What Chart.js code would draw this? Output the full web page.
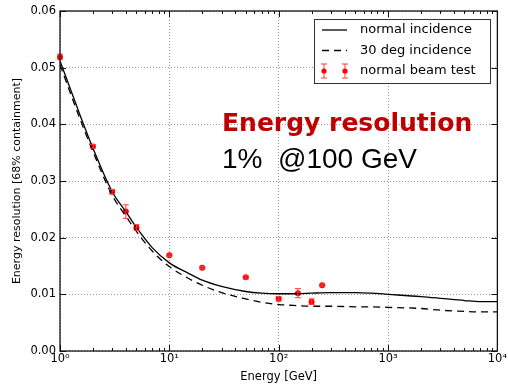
<!DOCTYPE html>
<html>
<head>
<meta charset="utf-8">
<script src="https://cdn.jsdelivr.net/npm/chart.js@4.4.1/dist/chart.umd.min.js"></script>
<style>
  html, body { margin: 0; padding: 0; background: #fff; }
  #chart { display: block; }
</style>
</head>
<body>
<canvas id="chart" width="508" height="388"></canvas>
<script>
// ---- DATA ----
const ENERGY_GEV = [1, 1.5, 2, 3, 4, 5, 7, 10, 15, 20, 30, 50, 70, 100, 150, 200, 300, 500, 700, 1000, 2000, 3000, 5000, 7000, 10000];
const RES_NORMAL = [0.0512, 0.0420, 0.0358, 0.0281, 0.0246, 0.0218, 0.0182, 0.01555, 0.0137, 0.0125, 0.0114, 0.0105, 0.0102, 0.0101, 0.0101, 0.0102, 0.0103, 0.0103, 0.0102, 0.0100, 0.0096, 0.0093, 0.0089, 0.0087, 0.0087];
const RES_30DEG  = [0.0505, 0.0413, 0.0352, 0.0275, 0.0238, 0.0211, 0.0176, 0.0149, 0.0128, 0.0116, 0.0103, 0.0092, 0.0086, 0.0082, 0.0080, 0.0079, 0.0079, 0.0078, 0.0078, 0.0077, 0.0075, 0.0072, 0.0070, 0.0069, 0.0069];

const BEAM_ENERGY = [1, 2, 3, 4, 5, 10, 20, 50, 100, 150, 200, 250];
const BEAM_RES    = [0.0519, 0.0361, 0.0281, 0.0246, 0.0218, 0.0169, 0.0147, 0.0130, 0.0092, 0.0102, 0.0087, 0.0116];
const BEAM_ERR    = [0.0005, 0.0003, 0.0004, 0.0012, 0.0005, 0.0002, 0.0002, 0.0003, 0.0004, 0.0008, 0.0005, 0.0002];

const SERIES_LABELS = ["normal incidence", "30 deg incidence", "normal beam test"];
const X_TICKS = [1, 10, 100, 1000, 10000];
const X_TICK_LABELS = ["10\u2070", "10\u00b9", "10\u00b2", "10\u00b3", "10\u2074"];
const Y_TICKS = [0, 0.01, 0.02, 0.03, 0.04, 0.05, 0.06];
const X_TITLE = "Energy [GeV]";
const Y_TITLE = "Energy resolution [68% containment]";
const NOTE_TITLE = "Energy resolution";
const NOTE_VALUE = "1%  @100 GeV";

// ---- HELPERS ----
const pts = (xs, ys) => xs.map((x, i) => ({ x, y: ys[i] }));
const TICK_FONT = { family: "DejaVu Sans", size: 11.5 };

// inward ticks + black frame, matplotlib-style
const framePlugin = {
  id: "frame",
  afterDraw(chart) {
    const { ctx, chartArea: a, scales: { x, y } } = chart;
    ctx.save();
    ctx.strokeStyle = "#111";
    ctx.lineWidth = 1;
    ctx.beginPath();
    for (let d = 0; d < 4; d++) {
      const base = Math.pow(10, d);
      for (let m = 1; m <= 9; m++) {
        const v = base * m;
        const px = Math.round(x.getPixelForValue(v)) + 0.5;
        const len = m === 1 ? 6 : 3;
        ctx.moveTo(px, a.bottom); ctx.lineTo(px, a.bottom - len);
        ctx.moveTo(px, a.top); ctx.lineTo(px, a.top + len);
      }
    }
    Y_TICKS.forEach(v => {
      const py = Math.round(y.getPixelForValue(v)) + 0.5;
      ctx.moveTo(a.left, py); ctx.lineTo(a.left + 6, py);
      ctx.moveTo(a.right, py); ctx.lineTo(a.right - 6, py);
    });
    ctx.stroke();
    ctx.lineWidth = 1.3;
    ctx.strokeRect(a.left, a.top, a.right - a.left, a.bottom - a.top);
    ctx.restore();
  }
};

// vertical error bars for the beam test points
function drawErrorBar(ctx, px, yLo, yHi) {
  ctx.beginPath();
  ctx.moveTo(px, yLo); ctx.lineTo(px, yHi);
  ctx.moveTo(px - 3, yLo); ctx.lineTo(px + 3, yLo);
  ctx.moveTo(px - 3, yHi); ctx.lineTo(px + 3, yHi);
  ctx.stroke();
}
const errorBarPlugin = {
  id: "errorBars",
  afterDatasetsDraw(chart) {
    const { ctx, scales: { x, y } } = chart;
    ctx.save();
    ctx.strokeStyle = "#ff3b3b";
    ctx.lineWidth = 1;
    BEAM_ENERGY.forEach((e, i) => {
      const px = x.getPixelForValue(e);
      drawErrorBar(ctx, px, y.getPixelForValue(BEAM_RES[i] - BEAM_ERR[i]), y.getPixelForValue(BEAM_RES[i] + BEAM_ERR[i]));
    });
    ctx.restore();
  }
};

// boxed legend in the top right corner + red/black note text
const legendNotePlugin = {
  id: "legendNote",
  afterDraw(chart) {
    const { ctx } = chart;
    const ds = chart.data.datasets;
    ctx.save();
    // box
    const bx = 314.5, by = 19.5, bw = 176, bh = 64;
    ctx.fillStyle = "#fff";
    ctx.fillRect(bx, by, bw, bh);
    ctx.strokeStyle = "#333";
    ctx.lineWidth = 1;
    ctx.strokeRect(bx, by, bw, bh);
    ctx.font = "13px 'DejaVu Sans'";
    ctx.textBaseline = "middle";
    ctx.fillStyle = "#000";
    ds.forEach((d, i) => {
      const ly = 30 + i * 20.5;
      ctx.strokeStyle = d.borderColor;
      ctx.lineWidth = d.borderWidth || 1;
      if (d.showLine !== false) {
        ctx.setLineDash(d.borderDash || []);
        ctx.beginPath();
        ctx.moveTo(322, ly); ctx.lineTo(347, ly);
        ctx.stroke();
        ctx.setLineDash([]);
      } else {
        ctx.strokeStyle = "#ff3b3b";
        ctx.lineWidth = 1;
        [324, 345].forEach(px => {
          drawErrorBar(ctx, px, ly + 7, ly - 7);
          ctx.fillStyle = d.pointBackgroundColor;
          ctx.beginPath(); ctx.arc(px, ly, 2.6, 0, Math.PI * 2); ctx.fill();
        });
        ctx.fillStyle = "#000";
      }
      ctx.fillText(d.label, 360, ly);
    });
    // note
    ctx.textBaseline = "alphabetic";
    ctx.fillStyle = "#c00000";
    ctx.font = "bold 25px 'DejaVu Sans'";
    ctx.fillText(NOTE_TITLE, 222, 131);
    ctx.fillStyle = "#000";
    ctx.font = "28px 'Liberation Sans'";
    ctx.fillText(NOTE_VALUE, 222, 168);
    ctx.restore();
  }
};

new Chart(document.getElementById("chart"), {
  type: "line",
  data: {
    datasets: [
      {
        label: SERIES_LABELS[0],
        data: pts(ENERGY_GEV, RES_NORMAL),
        borderColor: "#000",
        borderWidth: 1.3,
        pointRadius: 0,
        cubicInterpolationMode: "monotone",
        fill: false
      },
      {
        label: SERIES_LABELS[1],
        data: pts(ENERGY_GEV, RES_30DEG),
        borderColor: "#000",
        borderWidth: 1.3,
        borderDash: [7, 5],
        pointRadius: 0,
        cubicInterpolationMode: "monotone",
        fill: false
      },
      {
        label: SERIES_LABELS[2],
        data: pts(BEAM_ENERGY, BEAM_RES),
        showLine: false,
        borderColor: "#ff0000",
        pointBackgroundColor: "#ff0000",
        pointBorderColor: "#ff0000",
        pointRadius: 3,
        pointBorderWidth: 0,
        clip: false
      }
    ]
  },
  options: {
    responsive: false,
    animation: false,
    devicePixelRatio: 1,
    layout: { padding: { top: 11, right: 10, left: 0, bottom: 0 } },
    plugins: { legend: { display: false }, tooltip: { enabled: false } },
    scales: {
      x: {
        type: "logarithmic",
        min: 1,
        max: 10000,
        afterBuildTicks: s => { s.ticks = X_TICKS.map(v => ({ value: v })); },
        afterFit: s => { s.height = 37; },
        ticks: {
          color: "#000",
          font: TICK_FONT,
          padding: 1,
          maxRotation: 0,
          autoSkip: false,
          callback: v => X_TICK_LABELS[X_TICKS.indexOf(v)] ?? ""
        },
        grid: { color: "#999", lineWidth: 1, drawTicks: false },
        border: { display: false, dash: [1, 2] },
        title: {
          display: true,
          text: X_TITLE,
          color: "#000",
          font: { family: "DejaVu Sans", size: 11.5 },
          padding: { top: 0, bottom: 4 }
        }
      },
      y: {
        min: 0,
        max: 0.06,
        afterBuildTicks: s => { s.ticks = Y_TICKS.map(v => ({ value: v })); },
        afterFit: s => { s.width = 60; },
        ticks: {
          color: "#000",
          font: TICK_FONT,
          padding: 4,
          callback: v => Number(v).toFixed(2)
        },
        grid: { color: "#999", lineWidth: 1, drawTicks: false },
        border: { display: false, dash: [1, 2] },
        title: {
          display: true,
          text: Y_TITLE,
          color: "#000",
          font: { family: "DejaVu Sans", size: 11 },
          padding: { top: 11, bottom: 0 }
        }
      }
    }
  },
  plugins: [errorBarPlugin, framePlugin, legendNotePlugin]
});
</script>
</body>
</html>
